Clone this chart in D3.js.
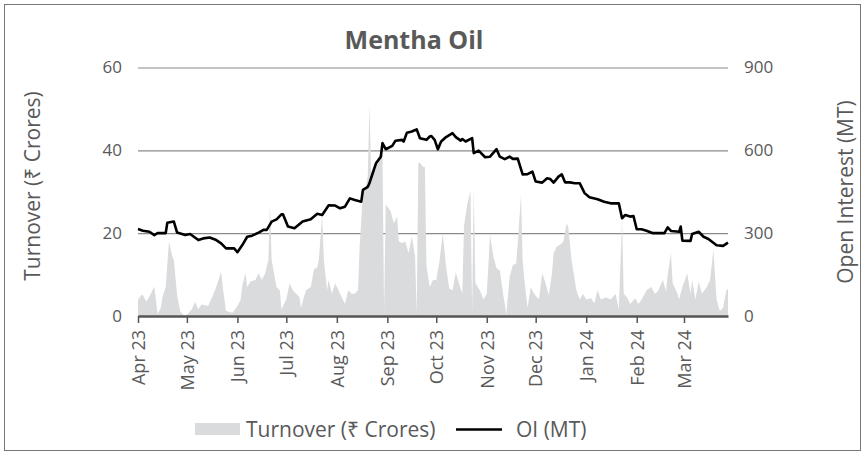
<!DOCTYPE html>
<meta charset="utf-8">
<script src="https://d3js.org/d3.v7.min.js"></script>
<style>
	body{margin:0;background:#fff;}
	text{font-family:"Open Sans","Noto Sans",sans-serif;fill:#595959;}
</style>
<div id="chart"></div>
<script>

// month tick labels
var monthLabels = ["Apr 23","May 23","Jun 23","Jul 23","Aug 23","Sep 23","Oct 23","Nov 23","Dec 23","Jan 24","Feb 24","Mar 24"]

// turnover (Rs crores)
var turnDates = ["2023-04-01","2023-04-03","2023-04-04","2023-04-06","2023-04-07","2023-04-09","2023-04-10","2023-04-11","2023-04-13","2023-04-15",
	"2023-04-16","2023-04-18","2023-04-20","2023-04-22","2023-04-23","2023-04-25","2023-04-27","2023-04-29","2023-05-01","2023-05-04",
	"2023-05-06","2023-05-08","2023-05-10","2023-05-12","2023-05-14","2023-05-17","2023-05-19","2023-05-22","2023-05-23","2023-05-25",
	"2023-05-29","2023-06-01","2023-06-03","2023-06-04","2023-06-06","2023-06-07","2023-06-09","2023-06-12","2023-06-14","2023-06-16",
	"2023-06-18","2023-06-20","2023-06-21","2023-06-22","2023-06-25","2023-06-27","2023-06-28","2023-07-01","2023-07-03","2023-07-05",
	"2023-07-07","2023-07-09","2023-07-10","2023-07-13","2023-07-16","2023-07-18","2023-07-20","2023-07-21","2023-07-23","2023-07-24",
	"2023-07-26","2023-07-27","2023-07-29","2023-07-31","2023-08-03","2023-08-06","2023-08-08","2023-08-10","2023-08-12","2023-08-14",
	"2023-08-15","2023-08-17","2023-08-19","2023-08-20","2023-08-21","2023-08-22","2023-08-24","2023-08-26","2023-08-28","2023-08-29",
	"2023-08-30","2023-08-31","2023-09-03","2023-09-05","2023-09-07","2023-09-08","2023-09-10","2023-09-12","2023-09-14","2023-09-16",
	"2023-09-18","2023-09-19","2023-09-20","2023-09-21","2023-09-23","2023-09-24","2023-09-25","2023-09-27","2023-09-29","2023-10-01",
	"2023-10-03","2023-10-05","2023-10-07","2023-10-09","2023-10-11","2023-10-13","2023-10-16","2023-10-17","2023-10-18","2023-10-20",
	"2023-10-22","2023-10-23","2023-10-24","2023-10-25","2023-10-28","2023-10-30","2023-11-01","2023-11-03","2023-11-05","2023-11-07",
	"2023-11-09","2023-11-11","2023-11-13","2023-11-15","2023-11-17","2023-11-19","2023-11-20","2023-11-22","2023-11-23","2023-11-24",
	"2023-11-26","2023-11-28","2023-11-30","2023-12-03","2023-12-05","2023-12-07","2023-12-09","2023-12-11","2023-12-12","2023-12-14",
	"2023-12-16","2023-12-18","2023-12-20","2023-12-21","2023-12-23","2023-12-26","2023-12-28","2023-12-30","2024-01-01","2024-01-04",
	"2024-01-06","2024-01-08","2024-01-10","2024-01-13","2024-01-16","2024-01-19","2024-01-21","2024-01-23","2024-01-24","2024-01-26",
	"2024-01-28","2024-01-31","2024-02-02","2024-02-04","2024-02-07","2024-02-10","2024-02-12","2024-02-14","2024-02-17","2024-02-19",
	"2024-02-20","2024-02-22","2024-02-23","2024-02-26","2024-02-27","2024-02-29","2024-03-03","2024-03-05","2024-03-06","2024-03-08",
	"2024-03-10","2024-03-12","2024-03-15","2024-03-17","2024-03-19","2024-03-21","2024-03-23","2024-03-25","2024-03-27","2024-03-28"]
var turnover = [3.9,5.0,5.1,3.5,4.0,5.5,6.3,7.1,0.5,2.0,
	4.5,7.0,18.0,14.4,13.5,5.1,1.0,0.2,0.2,1.6,
	3.4,1.6,2.8,2.6,2.4,5.0,7.0,10.7,7.0,1.2,
	0.8,2.4,4.0,7.5,10.3,7.0,8.3,8.7,10.3,8.7,
	10.3,13.5,26.9,13.5,7.0,6.2,1.6,4.0,7.9,6.2,
	5.4,4.6,2.0,6.2,7.0,11.3,11.7,13.7,24.5,13.7,
	6.2,8.7,5.4,7.9,5.4,2.9,6.2,5.4,5.4,6.2,
	16.8,29.7,31.3,34.0,51.0,34.5,35.3,37.8,39.4,39.0,
	1.0,26.9,25.3,22.4,24.0,18.0,17.6,18.0,15.2,19.2,
	14.5,0.5,37.0,37.0,36.0,36.0,12.0,7.0,8.7,8.7,
	13.3,20.0,12.0,6.6,6.2,10.5,6.5,5.4,21.6,27.0,
	30.2,1.0,31.0,8.0,6.0,4.0,5.4,19.6,14.4,11.5,
	11.0,5.4,0.5,9.5,12.3,12.7,17.5,29.3,13.5,9.0,
	2.0,7.0,5.4,4.0,10.3,8.0,5.0,10.3,15.2,16.8,
	17.2,18.0,22.4,21.5,13.5,6.2,4.0,5.4,4.0,4.3,
	3.0,6.2,4.0,4.5,4.0,5.4,1.6,23.2,5.4,4.5,
	2.9,4.3,2.9,4.0,6.2,7.0,5.4,6.0,8.7,6.0,
	10.0,15.2,8.0,5.4,4.0,7.0,10.3,5.4,8.7,4.0,
	8.3,5.4,7.0,8.7,16.0,4.0,1.2,2.0,6.2,6.5]

// open interest (MT)
var oiDates = ["2023-04-01","2023-04-04","2023-04-08","2023-04-11","2023-04-13","2023-04-18","2023-04-19","2023-04-23","2023-04-25","2023-04-30",
	"2023-05-03","2023-05-08","2023-05-11","2023-05-15","2023-05-19","2023-05-22","2023-05-25","2023-05-30","2023-06-01","2023-06-04",
	"2023-06-07","2023-06-10","2023-06-14","2023-06-17","2023-06-19","2023-06-22","2023-06-25","2023-06-28","2023-06-29","2023-07-02",
	"2023-07-06","2023-07-11","2023-07-16","2023-07-20","2023-07-23","2023-07-27","2023-07-31","2023-08-03","2023-08-06","2023-08-09",
	"2023-08-12","2023-08-16","2023-08-17","2023-08-20","2023-08-21","2023-08-23","2023-08-25","2023-08-28","2023-08-29","2023-08-31",
	"2023-09-04","2023-09-06","2023-09-10","2023-09-11","2023-09-13","2023-09-16","2023-09-19","2023-09-21","2023-09-25","2023-09-27",
	"2023-09-28","2023-09-30","2023-10-02","2023-10-04","2023-10-07","2023-10-11","2023-10-13","2023-10-16","2023-10-17","2023-10-19",
	"2023-10-23","2023-10-24","2023-10-27","2023-10-31","2023-11-03","2023-11-07","2023-11-09","2023-11-12","2023-11-15","2023-11-17",
	"2023-11-20","2023-11-23","2023-11-26","2023-11-29","2023-12-01","2023-12-05","2023-12-08","2023-12-10","2023-12-12","2023-12-15",
	"2023-12-17","2023-12-19","2023-12-22","2023-12-25","2023-12-28","2023-12-31","2024-01-03","2024-01-08","2024-01-12","2024-01-16",
	"2024-01-21","2024-01-23","2024-01-25","2024-01-28","2024-01-30","2024-02-01","2024-02-04","2024-02-07","2024-02-11","2024-02-18",
	"2024-02-20","2024-02-22","2024-02-27","2024-02-28","2024-02-29","2024-03-05","2024-03-06","2024-03-10","2024-03-13","2024-03-16",
	"2024-03-21","2024-03-25","2024-03-28"]
var openInterest = [315,309,305,293,300,300,338,342,302,293,
	297,275,281,284,275,263,245,245,231,257,
	287,291,302,312,312,342,350,368,368,324,
	318,342,350,370,366,401,400,390,396,426,
	420,414,457,468,481,517,553,577,626,604,
	616,635,638,632,664,668,676,644,638,650,
	652,638,604,632,648,662,648,635,641,632,
	644,590,599,575,577,604,577,568,577,569,
	570,513,514,523,487,483,499,496,483,505,
	513,484,484,481,481,445,430,423,414,408,
	408,354,366,360,362,314,314,309,300,300,
	321,308,305,324,273,272,297,305,287,279,
	256,254,266]

var leftTicks = [0,20,40,60]
var rightTicks = [0,300,600,900]

var W = 865, H = 455
var plot = {left:138, right:728, top:67.5, bottom:316}
var areaColor = "#dadbdc"

var parse = d3.timeParse("%Y-%m-%d")
var turnData = turnDates.map(function(d,i){ return {date:parse(d), v:turnover[i]} })
var oiData = oiDates.map(function(d,i){ return {date:parse(d), v:openInterest[i]} })

var svg = d3.select("#chart").append("svg")
	.attr("width",W).attr("height",H)

// outer frame
svg.append("rect")
	.attr("x",4.5).attr("y",4.5).attr("width",W-9).attr("height",H-9)
	.attr("fill","none").attr("stroke","#777").attr("stroke-width",1)

var xScale = d3.scaleTime()
	.domain([parse("2023-04-01"), parse("2024-03-28")])
	.range([plot.left, plot.right])
var yLeft = d3.scaleLinear().domain([0,60]).range([plot.bottom, plot.top])
var yRight = d3.scaleLinear().domain([0,900]).range([plot.bottom, plot.top])

// grid lines
svg.append("g").selectAll("line")
	.data(leftTicks.filter(function(t){ return t>0 }))
	.join("line")
	.attr("x1",plot.left).attr("x2",plot.right)
	.attr("y1",function(d){ return yLeft(d)+0.5 }).attr("y2",function(d){ return yLeft(d)+0.5 })
	.attr("stroke","#8a8a8a").attr("stroke-width",1.2)

// turnover area
var area = d3.area()
	.x(function(d){ return xScale(d.date) })
	.y0(yLeft(0))
	.y1(function(d){ return yLeft(d.v) })
svg.append("path").datum(turnData)
	.attr("fill",areaColor)
	.attr("d",area)

// OI line
var line = d3.line()
	.x(function(d){ return xScale(d.date) })
	.y(function(d){ return yRight(d.v) })
svg.append("path").datum(oiData)
	.attr("fill","none")
	.attr("stroke","#000")
	.attr("stroke-width",2.6)
	.attr("stroke-linejoin","round")
	.attr("d",line)

// left axis labels
var axL = svg.append("g").attr("transform","translate("+(plot.left)+",0)")
	.call(d3.axisLeft(yLeft).tickValues(leftTicks).tickSize(0).tickPadding(16))
axL.select(".domain").remove()
axL.selectAll("text").style("font-size","17px").attr("fill","#595959")

// right axis labels
var axR = svg.append("g").attr("transform","translate("+(plot.right)+",0)")
	.call(d3.axisRight(yRight).tickValues(rightTicks).tickSize(0).tickPadding(16))
axR.select(".domain").remove()
axR.selectAll("text").style("font-size","17px").attr("fill","#595959")

// bottom axis
var monthTicks = d3.timeMonth.range(parse("2023-04-01"), parse("2024-03-28"))
var axB = svg.append("g").attr("transform","translate(0,"+plot.bottom+")")
	.call(d3.axisBottom(xScale).tickValues(monthTicks).tickSize(7).tickSizeOuter(0)
		.tickFormat(function(d,i){ return monthLabels[i] }))
axB.select(".domain").attr("stroke","#555").attr("stroke-width",2.5)
axB.selectAll(".tick line").attr("stroke","#555").attr("stroke-width",1.5)
axB.selectAll("text")
	.style("font-size","18px").attr("fill","#595959")
	.attr("text-anchor","end")
	.attr("transform","rotate(-90)")
	.attr("x",-14).attr("y",0).attr("dy","0.35em")

// title
svg.append("text")
	.attr("x",414).attr("y",49)
	.attr("text-anchor","middle")
	.style("font-size","25px").style("font-weight","bold")
	.text("Mentha Oil")

// axis titles
svg.append("text")
	.attr("transform","translate(33,186) rotate(-90)")
	.attr("text-anchor","middle").attr("dy","0.35em")
	.style("font-size","21px")
	.text("Turnover (₹ Crores)")
svg.append("text")
	.attr("transform","translate(846,192) rotate(-90)")
	.attr("text-anchor","middle").attr("dy","0.35em")
	.style("font-size","21px")
	.text("Open Interest (MT)")

// legend
var lg = svg.append("g")
lg.append("rect").attr("x",195).attr("y",423).attr("width",45).attr("height",12).attr("fill",areaColor)
lg.append("text").attr("x",246).attr("y",437).style("font-size","21px").text("Turnover (₹ Crores)")
lg.append("line").attr("x1",456).attr("x2",502).attr("y1",429.5).attr("y2",429.5)
	.attr("stroke","#000").attr("stroke-width",2.5)
lg.append("text").attr("x",516).attr("y",437).style("font-size","21px").text("OI (MT)")

</script>
